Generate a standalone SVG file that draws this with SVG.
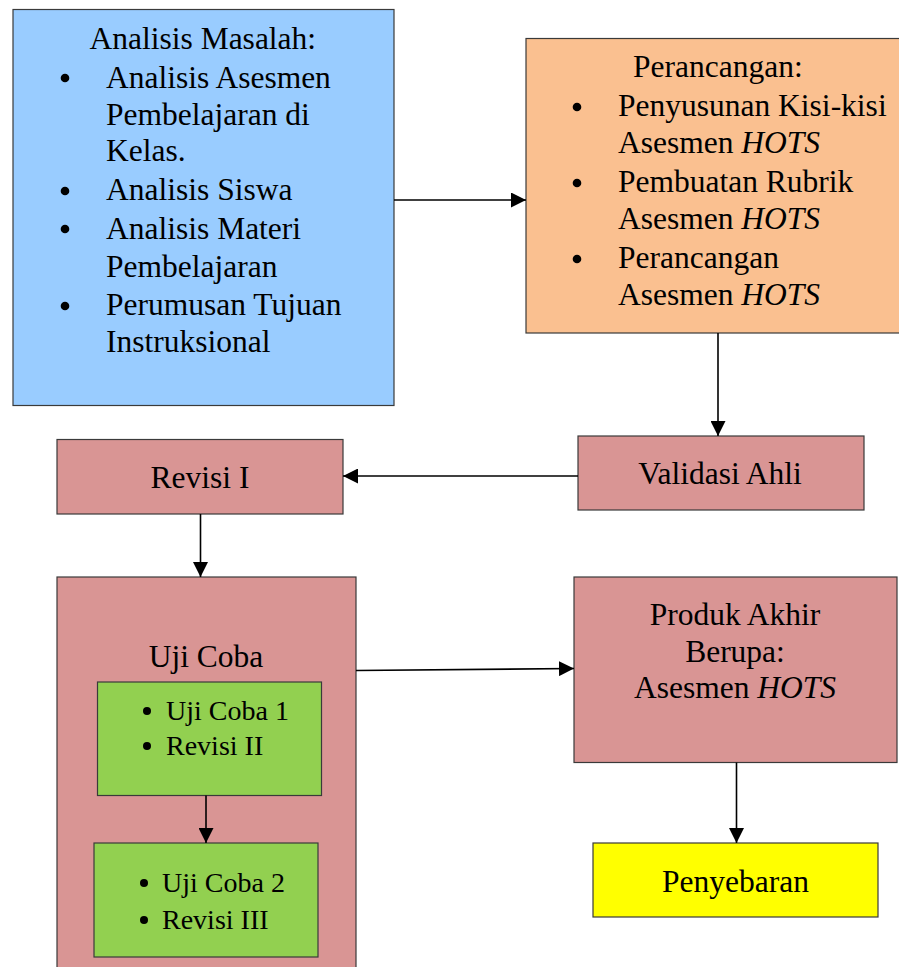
<svg xmlns="http://www.w3.org/2000/svg" width="899" height="967" viewBox="0 0 899 967">
<style>
  .box { stroke: #3a3a3a; stroke-width: 1.2; }
  .blue { fill: #99CCFF; }
  .orange { fill: #FAC090; }
  .pink { fill: #D99594; }
  .green { fill: #92D050; }
  .yellow { fill: #FFFF00; }
  text { font-family: "Liberation Serif", "Times New Roman", serif; fill: #000; }
  .t { font-size: 31.5px; }
  .s { font-size: 28px; }
  .c { text-anchor: middle; }
  .conn { stroke: #000; stroke-width: 1.6; fill: none; marker-end: url(#arr); }
</style>
<defs>
  <marker id="arr" viewBox="0 0 15 15" refX="15" refY="7.5" markerWidth="15" markerHeight="15" markerUnits="userSpaceOnUse" orient="auto">
    <path d="M0,0 L15,7.5 L0,15 Z" fill="#000"/>
  </marker>
</defs>

<g id="analisis">
  <rect class="box blue" x="13" y="9.5" width="381" height="396"/>
  <text class="t" x="89.5" y="48.5">Analisis Masalah:</text>
  <circle cx="65" cy="78" r="4.3"/>
  <text class="t" x="106" y="87.5">Analisis Asesmen</text>
  <text class="t" x="106" y="124.5">Pembelajaran di</text>
  <text class="t" x="106" y="161">Kelas.</text>
  <circle cx="65" cy="191" r="4.3"/>
  <text class="t" x="106" y="200">Analisis Siswa</text>
  <circle cx="65" cy="229" r="4.3"/>
  <text class="t" x="106" y="238.5">Analisis Materi</text>
  <text class="t" x="106" y="276.5">Pembelajaran</text>
  <circle cx="65" cy="306" r="4.3"/>
  <text class="t" x="106" y="315">Perumusan Tujuan</text>
  <text class="t" x="106" y="351.5">Instruksional</text>
</g>

<g id="perancangan">
  <rect class="box orange" x="526" y="38.5" width="380" height="294.5"/>
  <text class="t" x="633" y="77">Perancangan:</text>
  <circle cx="577" cy="107" r="4.3"/>
  <text class="t" x="618" y="116">Penyusunan Kisi-kisi</text>
  <text class="t" x="618" y="152.5">Asesmen <tspan font-style="italic">HOTS</tspan></text>
  <circle cx="577" cy="183" r="4.3"/>
  <text class="t" x="618" y="192">Pembuatan Rubrik</text>
  <text class="t" x="618" y="228.5">Asesmen <tspan font-style="italic">HOTS</tspan></text>
  <circle cx="577" cy="259" r="4.3"/>
  <text class="t" x="618" y="268">Perancangan</text>
  <text class="t" x="618" y="304.5">Asesmen <tspan font-style="italic">HOTS</tspan></text>
</g>

<g id="validasi">
  <rect class="box pink" x="578" y="436" width="286" height="74"/>
  <text class="t c" x="720" y="483.5">Validasi Ahli</text>
</g>

<g id="revisi1">
  <rect class="box pink" x="57" y="439.5" width="286" height="74.5"/>
  <text class="t c" x="200" y="487.5">Revisi I</text>
</g>

<g id="ujicoba">
  <rect class="box pink" x="57" y="577" width="299" height="400"/>
  <text class="t c" x="206" y="667">Uji Coba</text>
</g>

<g id="ujicoba1">
  <rect class="box green" x="97.5" y="682" width="224" height="113.5"/>
  <circle cx="147" cy="711" r="4"/>
  <text class="s" x="166" y="719.5">Uji Coba 1</text>
  <circle cx="147" cy="746" r="4"/>
  <text class="s" x="166" y="754.5">Revisi II</text>
</g>

<g id="ujicoba2">
  <rect class="box green" x="94" y="843" width="224" height="114"/>
  <circle cx="144" cy="883" r="4"/>
  <text class="s" x="162" y="892">Uji Coba 2</text>
  <circle cx="144" cy="920" r="4"/>
  <text class="s" x="162" y="928.5">Revisi III</text>
</g>

<g id="produk">
  <rect class="box pink" x="574" y="577" width="323" height="185.5"/>
  <text class="t c" x="735" y="625">Produk Akhir</text>
  <text class="t c" x="735" y="661.5">Berupa:</text>
  <text class="t c" x="735" y="698">Asesmen <tspan font-style="italic">HOTS</tspan></text>
</g>

<g id="penyebaran">
  <rect class="box yellow" x="593" y="843" width="285" height="74"/>
  <text class="t c" x="735.5" y="891.5">Penyebaran</text>
</g>

<g id="connectors">
  <path class="conn" d="M394,200 L526,200"/>
  <path class="conn" d="M718,333 L718,436"/>
  <path class="conn" d="M578,476 L343,476"/>
  <path class="conn" d="M200.5,514 L200.5,577"/>
  <path class="conn" d="M356,670.5 L574,668.5"/>
  <path class="conn" d="M206,795.5 L206,843"/>
  <path class="conn" d="M736.5,762.5 L736.5,843"/>
</g>
</svg>
